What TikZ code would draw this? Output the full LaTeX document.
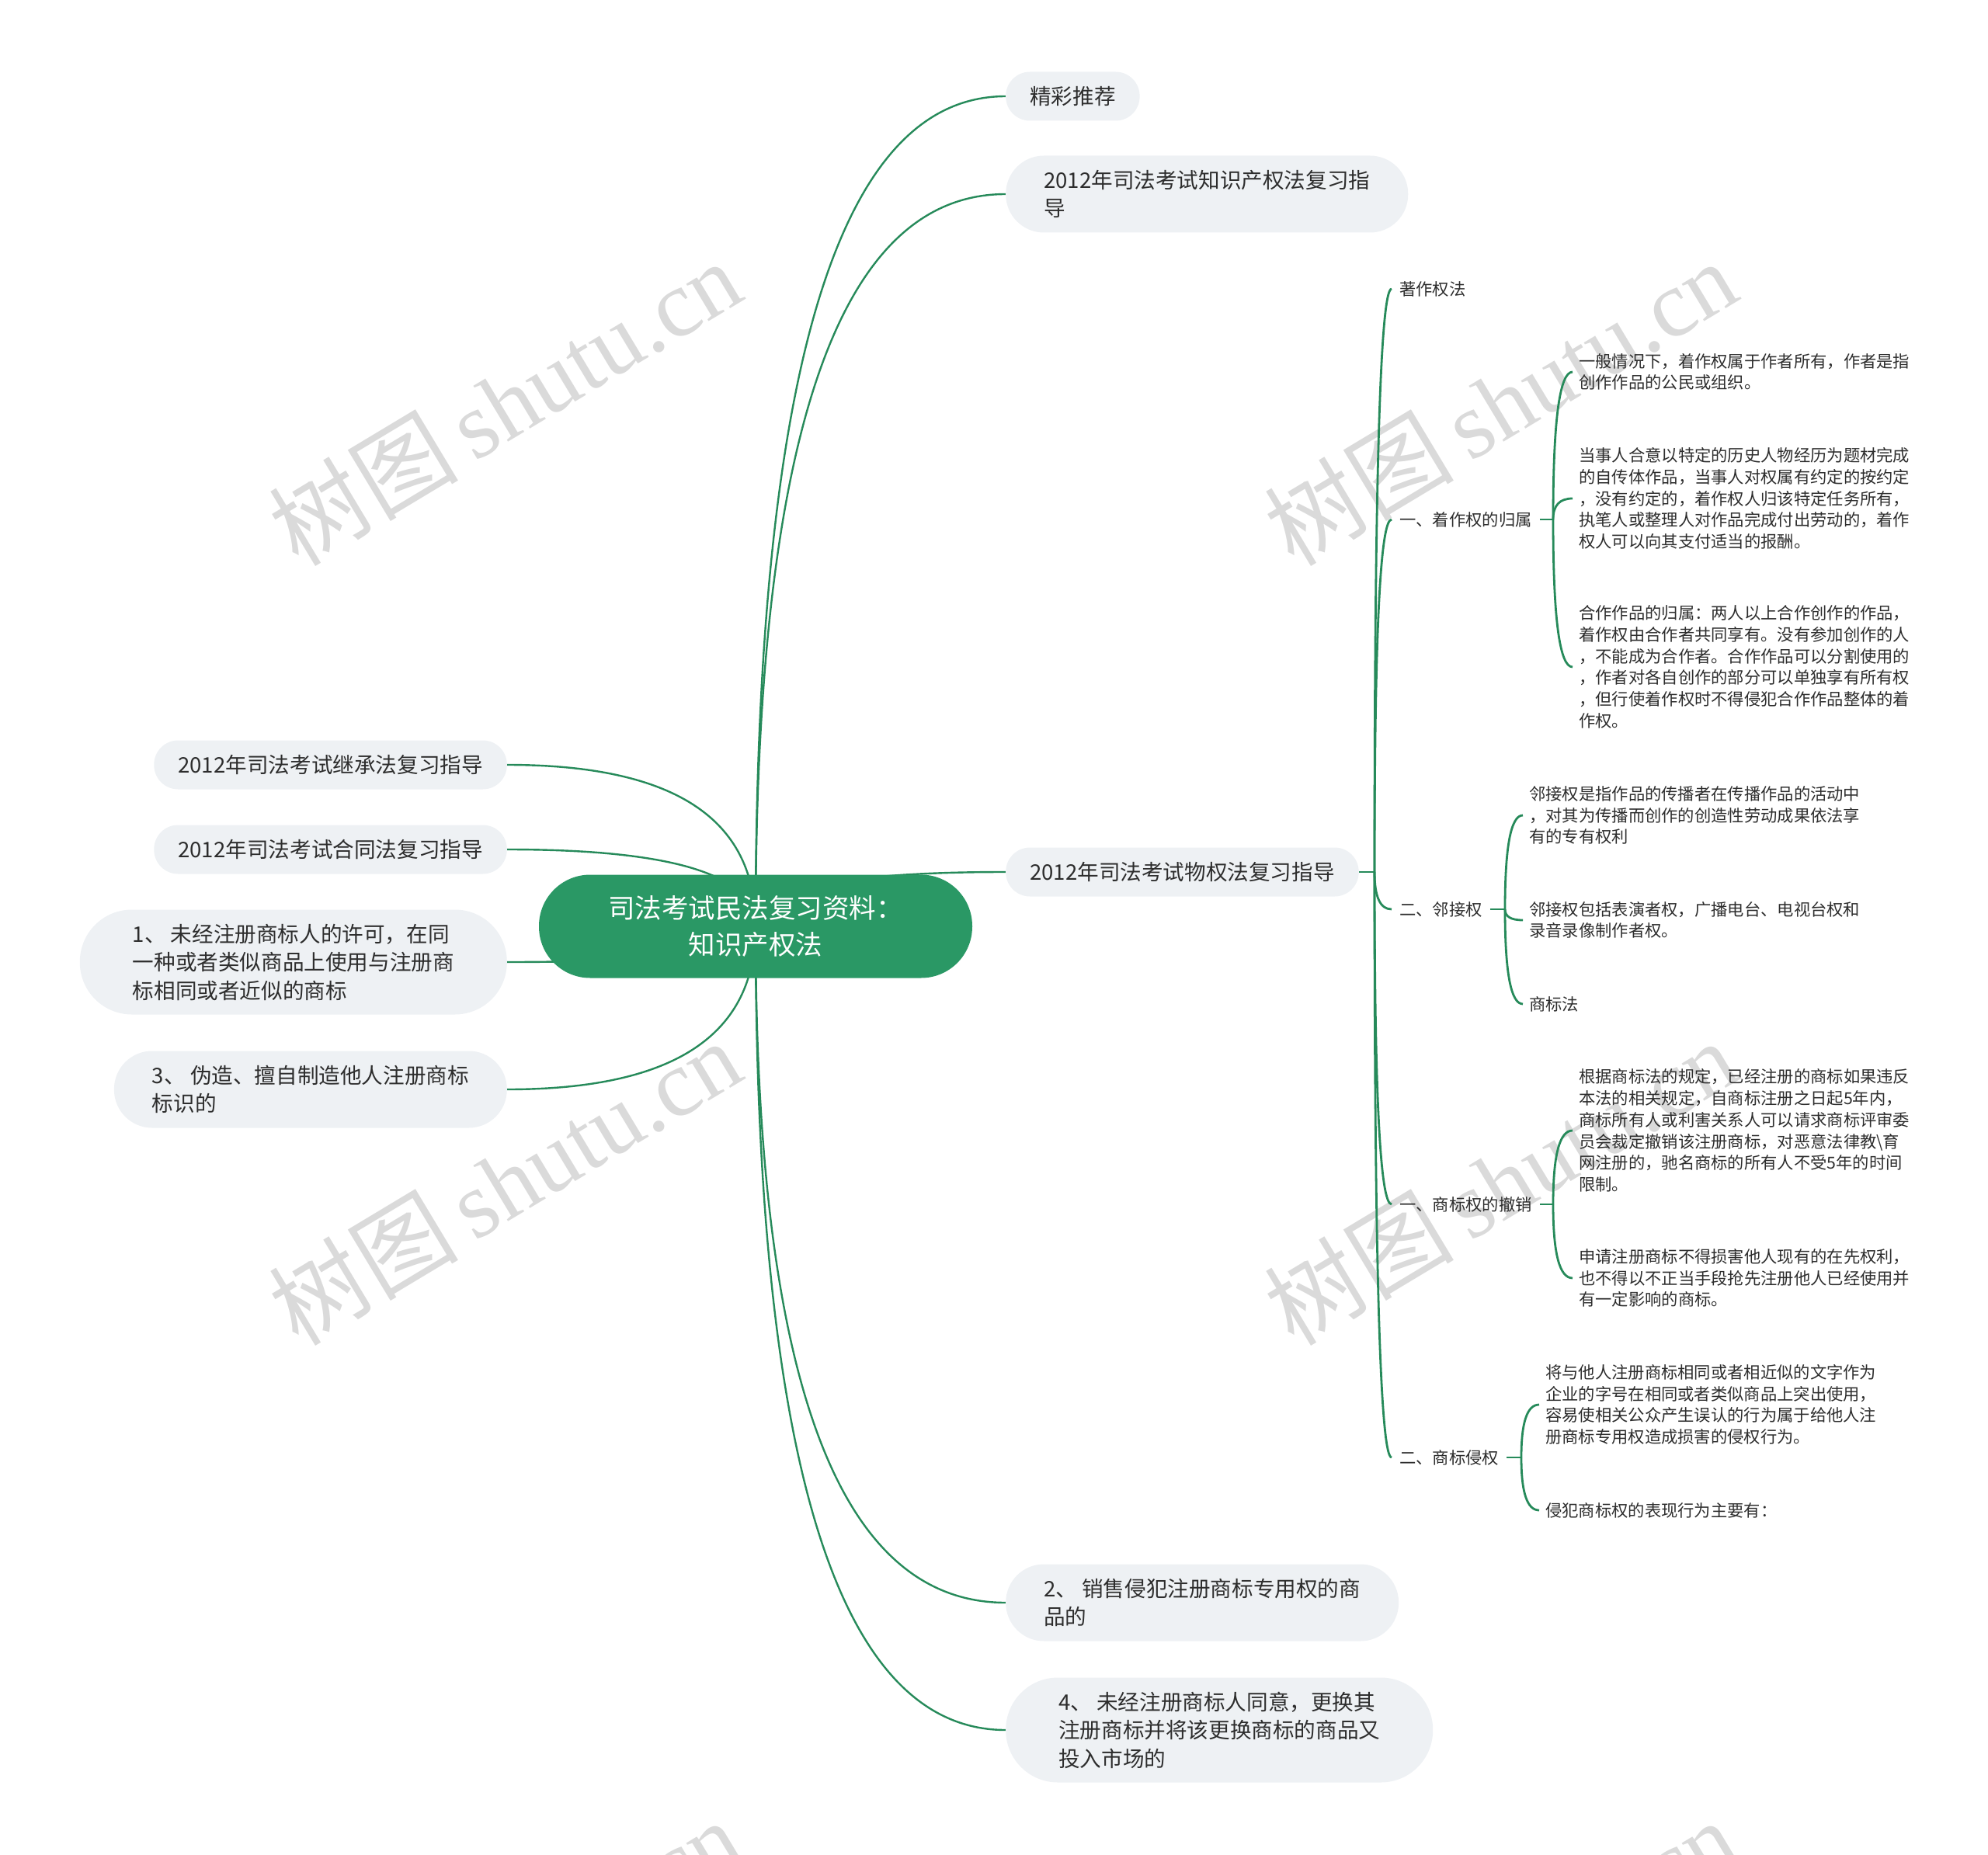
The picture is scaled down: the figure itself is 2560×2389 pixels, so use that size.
\documentclass[tikz,border=0pt]{standalone}
\usepackage{fontspec}
\setmainfont{Noto Sans CJK SC}
\newfontfamily\wmfont{Liberation Serif}
\usetikzlibrary{calc,backgrounds}

\definecolor{rootgreen}{RGB}{42,152,101}
\definecolor{linkgreen}{RGB}{38,138,90}
\definecolor{topicgray}{RGB}{238,241,244}
\definecolor{textdark}{RGB}{45,45,45}
\definecolor{markgray}{RGB}{218,218,218}

\tikzset{
	link/.style={draw=linkgreen,line width=2.4pt},
	sublink/.style={draw=linkgreen,line width=2.8pt},
	branch/.style={to path={.. controls ($(\tikztostart)!0.67!(\tikztostart |- \tikztotarget)$) and ($(\tikztotarget)!0.67!(\tikztostart |- \tikztotarget)$) .. (\tikztotarget)}},
	rootbox/.style={fill=rootgreen,text=white,rounded corners=66pt,minimum width=558pt,minimum height=133pt,align=center,font=\fontsize{34.5}{47}\selectfont},
	topic/.style={fill=topicgray,text=textdark,align=left,inner ysep=0pt,font=\fontsize{27.6}{36.5}\selectfont},
	oneline/.style={topic,rounded corners=31pt,inner xsep=31pt,minimum height=63pt},
	twoline/.style={topic,rounded corners=49pt,inner xsep=49pt,minimum height=99pt},
	threeline/.style={topic,rounded corners=67pt,inner xsep=68pt,minimum height=135pt},
	subhead/.style={anchor=west,inner xsep=10pt,text=textdark,font=\fontsize{21.3}{27.7}\selectfont},
	leaf/.style={anchor=west,align=left,inner xsep=8pt,inner ysep=2pt,text=textdark,font=\fontsize{21.3}{27.7}\selectfont},
	wmark/.style={text=markgray,rotate=31,inner sep=0pt,font=\fontsize{122}{122}\selectfont}
}

\begin{document}
\begin{tikzpicture}[x=1pt,y=-1pt]
	\useasboundingbox (0,0) rectangle (2560,2389);
	% central topic
	\node[rootbox] (root) at (973,1193) {司法考试民法复习资料：\\知识产权法};
	% main topics on the right
	\node[oneline,anchor=west] (jctj) at (1295,124) {精彩推荐};
	\node[twoline,anchor=west] (zscq) at (1295,250) {2012年司法考试知识产权法复习指\\导};
	\node[oneline,anchor=west] (wqf) at (1295,1123) {2012年司法考试物权法复习指导};
	\node[twoline,anchor=west] (xsqf) at (1295,2064) {2、 销售侵犯注册商标专用权的商\\品的};
	\node[threeline,anchor=west] (ghsb) at (1295,2228) {4、 未经注册商标人同意，更换其\\注册商标并将该更换商标的商品又\\投入市场的};
	% main topics on the left
	\node[oneline,anchor=east] (jcf) at (653,985) {2012年司法考试继承法复习指导};
	\node[oneline,anchor=east] (htf) at (653,1094) {2012年司法考试合同法复习指导};
	\node[threeline,anchor=east] (syxk) at (653,1239) {1、 未经注册商标人的许可，在同\\一种或者类似商品上使用与注册商\\标相同或者近似的商标};
	\node[twoline,anchor=east] (wzbs) at (653,1403) {3、 伪造、擅自制造他人注册商标\\标识的};
	% subtopics of the property law guide
	\coordinate (wqfb) at (1770,1123);
	\node[subhead] (zzqf) at (1792,372) {著作权法};
	\node[subhead] (zzgs) at (1792,669) {一、着作权的归属};
	\node[subhead] (ljq) at (1792,1171) {二、邻接权};
	\node[subhead] (sbcx) at (1792,1551) {一、商标权的撤销};
	\node[subhead] (sbqq) at (1792,1877) {二、商标侵权};
	% leaves of the copyright ownership
	\coordinate (zzgsb) at (2000,669);
	\node[leaf] (gs1) at (2025,479) {一般情况下，着作权属于作者所有，作者是指\\创作作品的公民或组织。};
	\node[leaf] (gs2) at (2025,642) {当事人合意以特定的历史人物经历为题材完成\\的自传体作品，当事人对权属有约定的按约定\\，没有约定的，着作权人归该特定任务所有，\\执笔人或整理人对作品完成付出劳动的，着作\\权人可以向其支付适当的报酬。};
	\node[leaf] (gs3) at (2025,859) {合作作品的归属：两人以上合作创作的作品，\\着作权由合作者共同享有。没有参加创作的人\\，不能成为合作者。合作作品可以分割使用的\\，作者对各自创作的部分可以单独享有所有权\\，但行使着作权时不得侵犯合作作品整体的着\\作权。};
	% leaves of the neighbouring rights
	\coordinate (ljqb) at (1938,1171);
	\node[leaf] (lj1) at (1961,1050) {邻接权是指作品的传播者在传播作品的活动中\\，对其为传播而创作的创造性劳动成果依法享\\有的专有权利};
	\node[leaf] (lj2) at (1961,1185) {邻接权包括表演者权，广播电台、电视台权和\\录音录像制作者权。};
	\node[leaf] (lj3) at (1961,1293) {商标法};
	% leaves of the trademark cancellation
	\coordinate (sbcxb) at (2000,1551);
	\node[leaf] (cx1) at (2025,1456) {根据商标法的规定，已经注册的商标如果违反\\本法的相关规定，自商标注册之日起5年内，\\商标所有人或利害关系人可以请求商标评审委\\员会裁定撤销该注册商标，对恶意法律教{\textbackslash}育\\网注册的，驰名商标的所有人不受5年的时间\\限制。};
	\node[leaf] (cx2) at (2025,1646) {申请注册商标不得损害他人现有的在先权利，\\也不得以不正当手段抢先注册他人已经使用并\\有一定影响的商标。};
	% leaves of the trademark infringement
	\coordinate (sbqqb) at (1959,1877);
	\node[leaf] (qq1) at (1982,1809) {将与他人注册商标相同或者相近似的文字作为\\企业的字号在相同或者类似商品上突出使用，\\容易使相关公众产生误认的行为属于给他人注\\册商标专用权造成损害的侵权行为。};
	\node[leaf] (qq2) at (1982,1945) {侵犯商标权的表现行为主要有：};
	\begin{scope}[on background layer]
		% watermark
		\begin{scope}
			\clip (0,0) rectangle (2560,2389);
			\node[wmark] (wm1) at (650,518) {树图\,{\wmfont shutu.cn}};
			\node[wmark] (wm2) at (1932,518) {树图\,{\wmfont shutu.cn}};
			\node[wmark] (wm3) at (650,1522) {树图\,{\wmfont shutu.cn}};
			\node[wmark] (wm4) at (1932,1522) {树图\,{\wmfont shutu.cn}};
			\node[wmark] (wm5) at (650,2526) {树图\,{\wmfont shutu.cn}};
			\node[wmark] (wm6) at (1932,2526) {树图\,{\wmfont shutu.cn}};
		\end{scope}
		% from the central topic
		\draw[link] (root.center) to[branch] (jctj.west);
		\draw[link] (root.center) to[branch] (zscq.west);
		\draw[link] (root.center) to[branch] (wqf.west);
		\draw[link] (root.center) to[branch] (xsqf.west);
		\draw[link] (root.center) to[branch] (ghsb.west);
		\draw[link] (root.center) to[branch] (jcf.east);
		\draw[link] (root.center) to[branch] (htf.east);
		\draw[link] (root.center) to[branch] (syxk.east);
		\draw[link] (root.center) to[branch] (wzbs.east);
		% from the property law guide
		\draw[sublink] (wqf.east) -- (wqfb);
		\draw[sublink] (wqfb) to[branch] (zzqf.west);
		\draw[sublink] (wqfb) to[branch] (zzgs.west);
		\draw[sublink] (wqfb) to[branch] (ljq.west);
		\draw[sublink] (wqfb) to[branch] (sbcx.west);
		\draw[sublink] (wqfb) to[branch] (sbqq.west);
		% brackets to the leaves
		\draw[sublink] (zzgs.east) -- (zzgsb);
		\draw[sublink] (zzgsb) to[branch] (gs1.west);
		\draw[sublink] (zzgsb) to[branch] (gs2.west);
		\draw[sublink] (zzgsb) to[branch] (gs3.west);
		\draw[sublink] (ljq.east) -- (ljqb);
		\draw[sublink] (ljqb) to[branch] (lj1.west);
		\draw[sublink] (ljqb) to[branch] (lj2.west);
		\draw[sublink] (ljqb) to[branch] (lj3.west);
		\draw[sublink] (sbcx.east) -- (sbcxb);
		\draw[sublink] (sbcxb) to[branch] (cx1.west);
		\draw[sublink] (sbcxb) to[branch] (cx2.west);
		\draw[sublink] (sbqq.east) -- (sbqqb);
		\draw[sublink] (sbqqb) to[branch] (qq1.west);
		\draw[sublink] (sbqqb) to[branch] (qq2.west);
	\end{scope}
\end{tikzpicture}
\end{document}
